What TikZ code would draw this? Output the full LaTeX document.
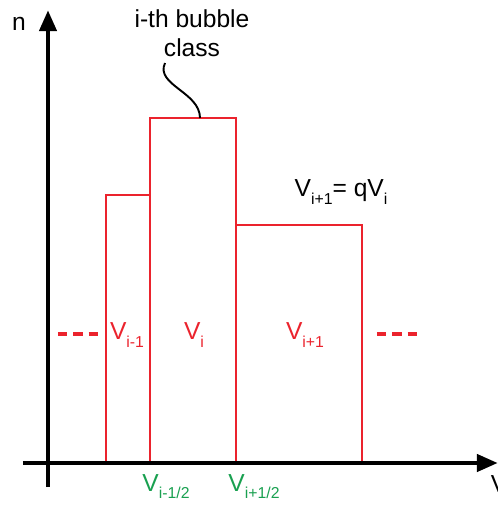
\documentclass[tikz,border=0pt]{standalone}
\usepackage{fontspec}
\setmainfont{Liberation Sans}
\usetikzlibrary{arrows.meta}
\definecolor{barred}{RGB}{235,35,45}
\definecolor{edgegreen}{RGB}{25,160,80}
\newcommand{\lowidx}[1]{\raisebox{-0.55ex}{\fontsize{9}{9}\selectfont #1}}

\begin{document}
\begin{tikzpicture}[x=0.02cm,y=-0.02cm,font=\fontsize{14}{16.5}\selectfont]
    \useasboundingbox (0,0) rectangle (498,505);

    % bubble classes as bars
    \foreach \xa/\xb/\top in {106/150/195, 150/236/118, 236/362/225} {
        \draw[barred,line width=1.1pt] (\xa,463) -- (\xa,\top) -- (\xb,\top) -- (\xb,463);
    }

    % dashes for the other classes
    \foreach \xa/\xb in {58/100, 377/419} {
        \draw[barred,line width=1.8pt,dash pattern=on 5.3pt off 3.4pt] (\xa,334) -- (\xb,334);
    }

    % axes
    \draw[line width=2.8pt,-{Triangle[length=12pt,width=9.5pt]}] (48,487) -- (48,10);
    \draw[line width=2.8pt,-{Triangle[length=12pt,width=9.5pt]}] (23,463) -- (498,463);
    \node (n) at (19,24) {n};
    \node (v) at (499,484) {V};

    % class labels
    \node[barred] (vim) at (127,335) {V\lowidx{i-1}};
    \node[barred] (vi) at (194,335) {V\lowidx{i}};
    \node[barred] (vip) at (305,335) {V\lowidx{i+1}};
    \node[edgegreen] (vl) at (166,487) {V\lowidx{i-1/2}};
    \node[edgegreen] (vr) at (254,487) {V\lowidx{i+1/2}};
    \node (ratio) at (341,192) {V\lowidx{i+1}= qV\lowidx{i}};

    % pointer to the i-th class
    \node[align=center] (ith) at (192,33) {i-th bubble\\class};
    \coordinate (itop) at (200,118);
    \draw[line width=1.1pt] (165,63) .. controls (155,85) and (200,92) .. (itop);
\end{tikzpicture}
\end{document}
